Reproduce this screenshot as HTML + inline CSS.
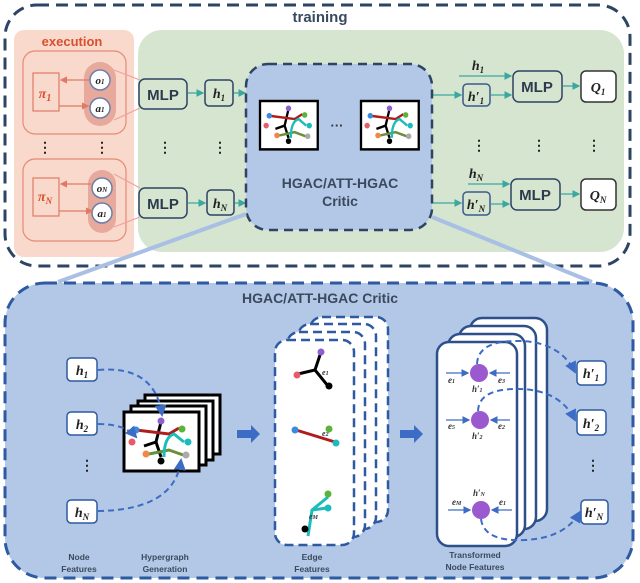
<!DOCTYPE html>
<html><head><style>body{margin:0;background:#fff}svg{display:block}
.s{font-family:"Liberation Sans",sans-serif;font-weight:bold}
.m{font-family:"Liberation Serif",serif;font-style:italic;font-weight:bold}
</style></head><body>
<svg width="640" height="583" viewBox="0 0 640 583" xmlns="http://www.w3.org/2000/svg">
<defs>
<marker id="ta" markerWidth="6" markerHeight="6" refX="5" refY="3" orient="auto"><path d="M0,0L6,3L0,6z" fill="#3aa8a0"/></marker>
<marker id="ra" markerWidth="6" markerHeight="6" refX="5" refY="3" orient="auto"><path d="M0,0L6,3L0,6z" fill="#e07a66"/></marker>
<marker id="ba" markerWidth="6" markerHeight="6" refX="5" refY="3" orient="auto"><path d="M0,0L6,3L0,6z" fill="#3d6cc4"/></marker>
<g id="hg">
<rect x="0" y="0" width="75" height="59" fill="#fff" stroke="#000" stroke-width="3"/>
<path d="M37,10 L32,30 L20,34 M32,30 L37,45" stroke="#000" stroke-width="3" fill="none"/>
<path d="M12,18 L45,22 L55,16" stroke="#b01c1c" stroke-width="3" fill="none"/>
<path d="M25,42 L45,38 L62,44" stroke="#6a8f3c" stroke-width="3" fill="none"/>
<path d="M40,45 Q40,25 50,22 L60,30" stroke="#1cbcbc" stroke-width="3" fill="none"/>
<circle cx="37" cy="9" r="3.5" fill="#8e5fd0"/><circle cx="12" cy="18" r="3.5" fill="#3a8be0"/>
<circle cx="8" cy="30" r="3.5" fill="#e85a6a"/><circle cx="58" cy="17" r="3.5" fill="#5ab33a"/>
<circle cx="64" cy="30" r="3.5" fill="#1cbcbc"/><circle cx="22" cy="42" r="3.5" fill="#f08848"/>
<circle cx="62" cy="43" r="3.5" fill="#aaa"/><circle cx="37" cy="49" r="3.5" fill="#000"/>
</g>
</defs>
<rect x="5" y="5" width="625" height="261" rx="32" fill="#fff" stroke="#2d4463" stroke-width="3" stroke-dasharray="12,7"/>
<text x="320" y="22" text-anchor="middle" class="s" font-size="15" fill="#3a4a5e">training</text>
<rect x="138" y="30" width="486" height="222" rx="24" fill="#d5e5cf"/>
<rect x="14" y="30" width="120" height="227" rx="10" fill="#f9d9cc"/>
<text x="72" y="46" text-anchor="middle" class="s" font-size="13" fill="#d9502f">execution</text>
<g>
<rect x="23" y="51" width="103" height="83" rx="12" fill="none" stroke="#e58a75" stroke-width="1.2"/>
<rect x="33" y="73" width="26" height="38" fill="none" stroke="#e07a66" stroke-width="1.2"/>
<text x="45" y="98" text-anchor="middle" class="m" font-size="14" fill="#d9502f">π<tspan font-size="10" dy="3">1</tspan></text>
<rect x="84" y="62" width="32" height="64" rx="16" fill="#e6a99c"/>
<circle cx="100" cy="80" r="10" fill="#fff" stroke="#6a7fa8" stroke-width="1.5"/>
<circle cx="100" cy="108" r="10" fill="#fff" stroke="#6a7fa8" stroke-width="1.5"/>
<text x="100" y="84" text-anchor="middle" class="m" font-size="11" fill="#222">o<tspan font-size="7">1</tspan></text>
<text x="100" y="112" text-anchor="middle" class="m" font-size="11" fill="#222">a<tspan font-size="7">1</tspan></text>
<line x1="89" y1="80" x2="61" y2="80" stroke="#e07a66" stroke-width="1.2" marker-end="url(#ra)"/>
<line x1="59" y1="106" x2="88" y2="106" stroke="#e07a66" stroke-width="1.2" marker-end="url(#ra)"/>
<rect x="23" y="159" width="103" height="82" rx="12" fill="none" stroke="#e58a75" stroke-width="1.2"/>
<rect x="33" y="178" width="26" height="38" fill="none" stroke="#e07a66" stroke-width="1.2"/>
<text x="45" y="201" text-anchor="middle" class="m" font-size="14" fill="#d9502f">π<tspan font-size="9" dy="3">N</tspan></text>
<rect x="88" y="170" width="28" height="63" rx="14" fill="#e6a99c"/>
<circle cx="102" cy="188" r="10" fill="#fff" stroke="#6a7fa8" stroke-width="1.5"/>
<circle cx="102" cy="213" r="10" fill="#fff" stroke="#6a7fa8" stroke-width="1.5"/>
<text x="102" y="192" text-anchor="middle" class="m" font-size="11" fill="#222">o<tspan font-size="7">N</tspan></text>
<text x="102" y="217" text-anchor="middle" class="m" font-size="11" fill="#222">a<tspan font-size="7">1</tspan></text>
<line x1="91" y1="184" x2="61" y2="184" stroke="#e07a66" stroke-width="1.2" marker-end="url(#ra)"/>
<line x1="59" y1="211" x2="92" y2="211" stroke="#e07a66" stroke-width="1.2" marker-end="url(#ra)"/>
<line x1="114" y1="70" x2="140" y2="80" stroke="#f2a0a0" stroke-width="1.2"/>
<line x1="114" y1="120" x2="140" y2="108" stroke="#f2a0a0" stroke-width="1.2"/>
<line x1="114" y1="174" x2="140" y2="188" stroke="#f2a0a0" stroke-width="1.2"/>
<line x1="114" y1="227" x2="140" y2="217" stroke="#f2a0a0" stroke-width="1.2"/>
</g>
<g font-size="14" fill="#222" class="s" text-anchor="middle">
<text x="45" y="152">⋮</text><text x="102" y="152">⋮</text><text x="165" y="152">⋮</text><text x="220" y="152">⋮</text>
<text x="479" y="150">⋮</text><text x="539" y="150">⋮</text><text x="594" y="150">⋮</text>
</g>
<g stroke="#2d4463" stroke-width="1.5" fill="#d5e5cf">
<rect x="139" y="79" width="48" height="30" rx="6"/><rect x="139" y="188" width="48" height="30" rx="6"/>
<rect x="205" y="80" width="28" height="26" rx="4"/><rect x="207" y="190" width="27" height="25" rx="4"/>
<rect x="513" y="71" width="49" height="31" rx="6"/><rect x="511" y="179" width="49" height="31" rx="6"/>
<rect x="463" y="84" width="27" height="22" rx="4" stroke="#3d5a8a"/><rect x="463" y="192" width="27" height="23" rx="4" stroke="#3d5a8a"/>
<rect x="581" y="71" width="35" height="31" rx="5" fill="#fff" stroke="#333"/><rect x="581" y="179" width="35" height="31" rx="5" fill="#fff" stroke="#333"/>
</g>
<g class="s" font-size="15" fill="#2d3a4d" text-anchor="middle">
<text x="163" y="100">MLP</text><text x="163" y="209">MLP</text><text x="537" y="92">MLP</text><text x="535" y="200">MLP</text>
</g>
<g class="m" font-size="14" fill="#222" text-anchor="middle">
<text x="219" y="98">h<tspan font-size="9" dy="3">1</tspan></text>
<text x="220" y="208">h<tspan font-size="9" dy="3">N</tspan></text>
<text x="476" y="101">h′<tspan font-size="9" dy="3">1</tspan></text>
<text x="476" y="209">h′<tspan font-size="9" dy="3">N</tspan></text>
<text x="478" y="70">h<tspan font-size="9" dy="3">1</tspan></text>
<text x="476" y="178">h<tspan font-size="9" dy="3">N</tspan></text>
<text x="598" y="92">Q<tspan font-size="9" dy="3">1</tspan></text>
<text x="598" y="200">Q<tspan font-size="9" dy="3">N</tspan></text>
</g>
<g stroke="#3aa8a0" stroke-width="1.3" marker-end="url(#ta)">
<line x1="188" y1="93" x2="203" y2="93"/><line x1="234" y1="93" x2="245" y2="93"/>
<line x1="188" y1="203" x2="205" y2="203"/><line x1="235" y1="203" x2="245" y2="203"/>
<line x1="433" y1="95" x2="461" y2="95"/><line x1="433" y1="203" x2="461" y2="203"/>
<line x1="491" y1="95" x2="511" y2="95"/><line x1="491" y1="204" x2="509" y2="204"/>
<line x1="459" y1="76" x2="511" y2="76"/><line x1="468" y1="184" x2="509" y2="184"/>
<line x1="563" y1="86" x2="579" y2="86"/><line x1="561" y1="194" x2="579" y2="194"/>
</g>
<rect x="246" y="64" width="186" height="166" rx="22" fill="#b3c7e6" stroke="#2d4463" stroke-width="2.5" stroke-dasharray="9,6"/>
<use href="#hg" transform="translate(260,101) scale(0.77,0.82)"/>
<use href="#hg" transform="translate(361,101) scale(0.77,0.82)"/>
<text x="337" y="130" text-anchor="middle" font-size="13" fill="#333" class="s">···</text>
<text x="340" y="188" text-anchor="middle" class="s" font-size="14" fill="#3a4a5e">HGAC/ATT-HGAC</text>
<text x="340" y="206" text-anchor="middle" class="s" font-size="14" fill="#3a4a5e">Critic</text>
<line x1="246" y1="214" x2="58" y2="282" stroke="#a9bfe4" stroke-width="4"/>
<line x1="432" y1="217" x2="592" y2="282" stroke="#a9bfe4" stroke-width="4"/>
<rect x="5" y="283" width="628" height="295" rx="40" fill="#b3c7e6" stroke="#2d5aa0" stroke-width="3" stroke-dasharray="12,7"/>
<text x="320" y="303" text-anchor="middle" class="s" font-size="14" fill="#3a4a5e">HGAC/ATT-HGAC Critic</text>
<g fill="#fff" stroke="#2d5aa0" stroke-width="1.5">
<rect x="67" y="358" width="30" height="23" rx="4"/><rect x="67" y="412" width="30" height="23" rx="4"/><rect x="67" y="500" width="30" height="23" rx="4"/>
<rect x="577" y="361" width="29" height="24" rx="4"/><rect x="577" y="410" width="29" height="25" rx="4"/><rect x="581" y="500" width="27" height="24" rx="4"/>
</g>
<g class="m" font-size="14" fill="#222" text-anchor="middle">
<text x="82" y="375">h<tspan font-size="9" dy="3">1</tspan></text>
<text x="82" y="429">h<tspan font-size="9" dy="3">2</tspan></text>
<text x="82" y="517">h<tspan font-size="9" dy="3">N</tspan></text>
<text x="591" y="378">h′<tspan font-size="9" dy="3">1</tspan></text>
<text x="591" y="428">h′<tspan font-size="9" dy="3">2</tspan></text>
<text x="594" y="517">h′<tspan font-size="9" dy="3">N</tspan></text>
</g>
<g font-size="14" fill="#222" class="s" text-anchor="middle"><text x="87" y="470">⋮</text><text x="316" y="476">⋮</text><text x="480" y="475">⋮</text><text x="593" y="470">⋮</text></g>
<use href="#hg" transform="translate(145,395)"/><use href="#hg" transform="translate(138,401)"/><use href="#hg" transform="translate(131,406)"/><use href="#hg" transform="translate(124,412)"/>
<g stroke="#3d6cc4" stroke-width="2" stroke-dasharray="6,4" fill="none" marker-end="url(#ba)">
<path d="M98,370 Q155,365 162,415"/><path d="M98,424 Q125,424 136,437"/><path d="M98,511 Q175,510 181,460"/>
</g>
<path d="M237,430 h14 v-5 l9,9 l-9,9 v-5 h-14z" fill="#3d6cc4"/>
<path d="M400,430 h14 v-5 l9,9 l-9,9 v-5 h-14z" fill="#3d6cc4"/>
<g fill="#fff" stroke="#2d5aa0" stroke-width="2.5" stroke-dasharray="9,5">
<rect x="310" y="317" width="78" height="205" rx="12"/><rect x="298" y="324" width="78" height="205" rx="12"/><rect x="287" y="332" width="78" height="205" rx="12"/><rect x="275" y="340" width="79" height="205" rx="12"/>
</g>
<g stroke-width="3" fill="none">
<path d="M321,352 L315,370 L298,374 M315,370 L328,386" stroke="#000"/>
<path d="M296,430 L335,442" stroke="#b01c1c"/>
<path d="M308,536 L312,510 L328,497 M312,510 L327,508" stroke="#1cbcbc"/>
</g>
<circle cx="321" cy="352" r="3.5" fill="#8e5fd0"/><circle cx="297" cy="375" r="3.5" fill="#e85a6a"/><circle cx="329" cy="386" r="3.5" fill="#000"/>
<circle cx="295" cy="430" r="3.5" fill="#3a8be0"/><circle cx="329" cy="429" r="3.5" fill="#5ab33a"/><circle cx="336" cy="443" r="3.5" fill="#1cbcbc"/>
<circle cx="328" cy="494" r="3.5" fill="#5ab33a"/><circle cx="328" cy="508" r="3.5" fill="#1cbcbc"/><circle cx="305" cy="529" r="3.5" fill="#000"/>
<g class="m" font-size="8" fill="#333"><text x="322" y="375">e<tspan font-size="6">1</tspan></text><text x="322" y="436">e<tspan font-size="6">2</tspan></text><text x="309" y="519">e<tspan font-size="6">M</tspan></text></g>
<g fill="#fff" stroke="#2d4f8a" stroke-width="2.5">
<rect x="470" y="318" width="77" height="203" rx="12"/><rect x="459" y="326" width="77" height="203" rx="12"/><rect x="448" y="334" width="77" height="203" rx="12"/><rect x="437" y="342" width="80" height="204" rx="12"/>
</g>
<g stroke="#3d6cc4" stroke-width="1.3" marker-end="url(#ba)">
<line x1="446" y1="373" x2="468" y2="373"/><line x1="510" y1="373" x2="490" y2="373"/>
<line x1="446" y1="420" x2="469" y2="420"/><line x1="510" y1="420" x2="491" y2="420"/>
<line x1="448" y1="510" x2="470" y2="510"/><line x1="512" y1="510" x2="492" y2="510"/>
</g>
<g stroke="#3d6cc4" stroke-width="2" stroke-dasharray="6,4" fill="none" marker-end="url(#ba)">
<path d="M477,364 Q478,340 520,341 Q560,342 575,372"/>
<path d="M478,411 Q479,388 520,389 Q560,390 575,420"/>
<path d="M481,519 Q484,542 525,540 Q565,538 580,512"/>
</g>
<circle cx="479" cy="373" r="9" fill="#9b59d0"/><circle cx="480" cy="420" r="9" fill="#9b59d0"/><circle cx="481" cy="510" r="9" fill="#9b59d0"/>
<g class="m" font-size="9" fill="#333">
<text x="448" y="383">e<tspan font-size="6">1</tspan></text><text x="498" y="383">e<tspan font-size="6">3</tspan></text><text x="472" y="392">h′<tspan font-size="6">1</tspan></text>
<text x="448" y="429">e<tspan font-size="6">5</tspan></text><text x="498" y="429">e<tspan font-size="6">2</tspan></text><text x="472" y="439">h′<tspan font-size="6">2</tspan></text>
<text x="452" y="505">e<tspan font-size="6">M</tspan></text><text x="499" y="505">e<tspan font-size="6">1</tspan></text><text x="473" y="496">h′<tspan font-size="6">N</tspan></text>
</g>
<g class="s" font-size="8.5" fill="#3a4a5e" text-anchor="middle">
<text x="79" y="560">Node</text><text x="79" y="572">Features</text>
<text x="165" y="560">Hypergraph</text><text x="165" y="572">Generation</text>
<text x="312" y="560">Edge</text><text x="312" y="572">Features</text>
<text x="475" y="558">Transformed</text><text x="475" y="570">Node Features</text>
</g>
</svg>
</body></html>
